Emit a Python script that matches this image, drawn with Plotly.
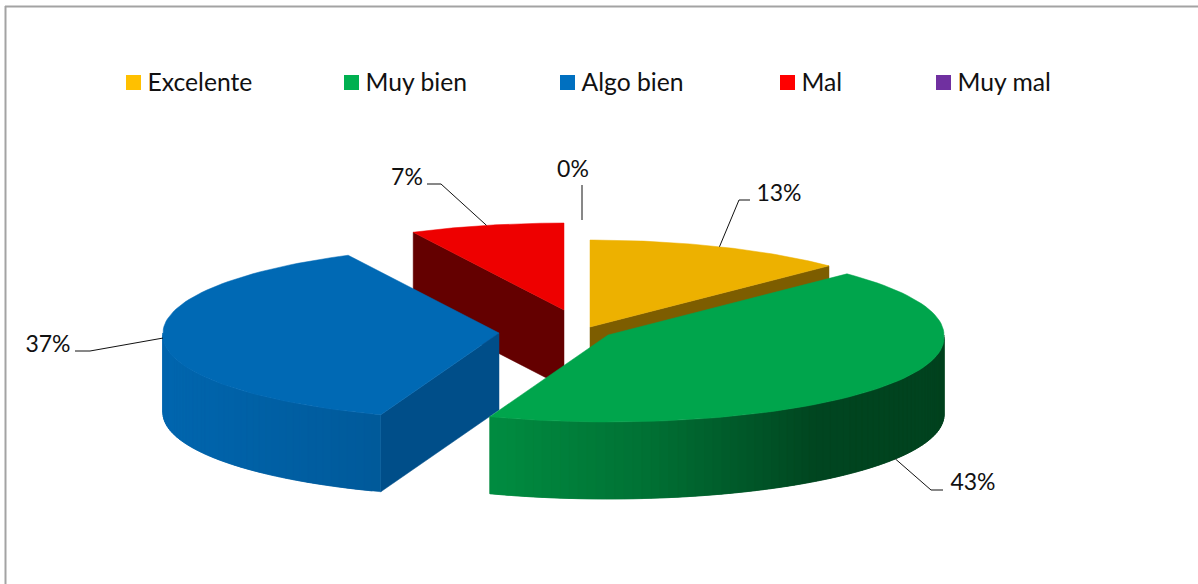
import numpy as np
import plotly.graph_objects as go

# Data
categories = ["Excelente", "Muy bien", "Algo bien", "Mal", "Muy mal"]
counts = [17, 58, 50, 10, 0]

# Styles
legend_colors = ["#FFC000", "#00B050", "#0070C0", "#FF0000", "#7030A0"]
legend_x = [126, 344, 560, 780, 936]
top_colors = [(237, 177, 0), (0, 165, 76), (0, 105, 180), (238, 0, 0), (105, 45, 150)]
cut_colors = [(125, 93, 0), (0, 90, 45), (0, 78, 137), (100, 0, 0), (60, 25, 85)]
apex = [(590, 327), (608, 335), (499, 333), (564, 310), (582, 307)]
RX, RY, DEPTH = 336, 87, 77
NEAR_WIDEN = 0.03
draw_order = [4, 3, 0, 2, 1]
# text centre and elbow for each label
label_pos = [(779, 195), (973, 484), (48, 346), (407, 179), (573, 171)]
elbow = [(750, 739, 200), (943, 931, 490), (75, 90, 351), (427, 441, 184), None]

FONT = "Lato, Carlito, Calibri, sans-serif"
FS_LEGEND = 24.7
FS_LABEL = 23

total = sum(counts)
fracs = [c / total for c in counts]
edges = np.concatenate([[0], np.cumsum(fracs)]) * 2 * np.pi


def rim(i, th, drop=0.0):
    ax, ay = apex[i]
    widen = 1 + NEAR_WIDEN * np.maximum(0, -np.cos(th))
    return ax + RX * widen * np.sin(th), ay - RY * np.cos(th) + drop


def rgb(c, k=1.0):
    return "rgb(%d,%d,%d)" % tuple(int(round(v * k)) for v in c)


def shade(th):
    return float(np.interp(np.sin(th), [-1, -0.37, 0.1, 0.6, 1], [0.97, 0.86, 0.69, 0.42, 0.40]))


fig = go.Figure()


def poly(xs, ys, color, name=None):
    xs, ys = list(xs), list(ys)
    fig.add_trace(go.Scatter(x=xs + xs[:1], y=ys + ys[:1], mode="lines", fill="toself",
                             fillcolor=color, line=dict(color=color, width=0.5),
                             hoverinfo="skip", showlegend=False, name=name))


for i in draw_order:
    t0, t1 = edges[i], edges[i + 1]
    if t1 - t0 <= 0:
        continue
    ax, ay = apex[i]
    # visible cut faces
    for t, phi in ((t0, t0 - np.pi / 2), (t1, t1 + np.pi / 2)):
        if np.cos(phi) < -1e-6:
            x, y = rim(i, t)
            poly([ax, x, x, ax], [ay, y, y + DEPTH, ay + DEPTH], rgb(cut_colors[i]))
    # outer wall, front half only; each strip runs under the next so no seams show
    lo, hi = max(t0, np.pi / 2), min(t1, 3 * np.pi / 2)
    if hi > lo:
        n = max(2, int(np.degrees(hi - lo) / 1.5))
        th = np.linspace(lo, hi, n + 1)
        for k in range(n):
            arc = np.linspace(th[k], th[min(k + 2, n)], 4)
            x, y = rim(i, arc)
            poly(np.concatenate([x, x[::-1]]), np.concatenate([y, y[::-1] + DEPTH]),
                 rgb(top_colors[i], shade((th[k] + th[k + 1]) / 2)))
    # top face
    th = np.linspace(t0, t1, 80)
    x, y = rim(i, th)
    poly(np.concatenate([[ax], x]), np.concatenate([[ay], y]), rgb(top_colors[i]), categories[i])

# leader lines and percentage labels
for i, c in enumerate(counts):
    mid = (edges[i] + edges[i + 1]) / 2
    wall = DEPTH if np.cos(mid) < -0.3 else 0
    mx, my = rim(i, mid, wall)
    if elbow[i]:
        xa, xb, yb = elbow[i]
        lx, ly = [xa, xb, mx], [yb, yb, my]
    else:
        lx, ly = [mx, mx], [my - 35, my]
    fig.add_trace(go.Scatter(x=lx, y=ly, mode="lines", line=dict(color="#111111", width=1),
                             hoverinfo="skip", showlegend=False))
    fig.add_trace(go.Scatter(x=[label_pos[i][0]], y=[label_pos[i][1]], mode="text",
                             text=["%d%%" % round(100 * fracs[i])], textposition="middle center",
                             textfont=dict(family=FONT, size=FS_LABEL, color="#111111"),
                             hoverinfo="skip", showlegend=False))

# legend row (entry gaps follow each label's width, as in the reference)
fig.add_trace(go.Scatter(x=[v + 7.5 for v in legend_x], y=[82.5] * 5, mode="markers",
                         marker=dict(symbol="square", size=15, color=legend_colors, line=dict(width=0)),
                         hoverinfo="skip", showlegend=False))
fig.add_trace(go.Scatter(x=[v + 21.5 for v in legend_x], y=[85] * 5, mode="text", text=categories,
                         textposition="middle right",
                         textfont=dict(family=FONT, size=FS_LEGEND, color="#111111"),
                         hoverinfo="skip", showlegend=False))

# chart frame
frame = dict(type="line", line=dict(color="#A3A3A3", width=2), xref="x", yref="y")
fig.update_layout(
    width=1198, height=584, margin=dict(l=0, r=0, t=0, b=0),
    paper_bgcolor="white", plot_bgcolor="white",
    xaxis=dict(range=[0, 1198], visible=False, fixedrange=True),
    yaxis=dict(range=[584, 0], visible=False, fixedrange=True),
    shapes=[dict(x0=5.5, x1=5.5, y0=6, y1=584, **frame), dict(x0=5, x1=1198, y0=6.5, y1=6.5, **frame)],
    showlegend=False,
)
fig.write_html("out.html", config={"displayModeBar": False},
               post_script="document.body.style.margin='0';document.body.style.overflow='hidden';")
